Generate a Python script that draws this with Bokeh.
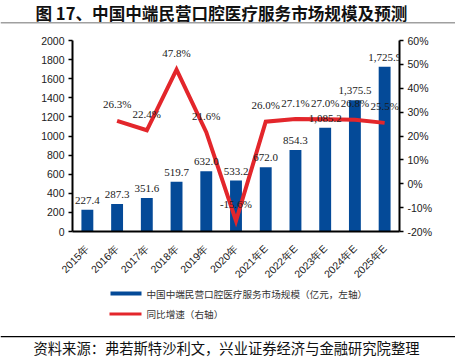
from bokeh.plotting import figure
from bokeh.layouts import column
from bokeh.models import (ColumnDataSource, FactorRange, Range1d, LinearAxis, FixedTicker,
                          PrintfTickFormatter, LabelSet, Label, BoxAnnotation)
from bokeh.embed import file_html
from bokeh.resources import INLINE
import math

years = ["2015年", "2016年", "2017年", "2018年", "2019年", "2020年",
         "2021年E", "2022年E", "2023年E", "2024年E", "2025年E"]
market = [227.4, 287.3, 351.6, 519.7, 632.0, 533.2, 672.0, 854.3, 1085.2, 1375.5, 1725.9]
growth_years = years[1:]
growth = [26.3, 22.4, 47.8, 21.6, -15.6, 26.0, 27.1, 27.0, 26.8, 25.5]

title_text = "图 17、中国中端民营口腔医疗服务市场规模及预测"
legend_bar = "中国中端民营口腔医疗服务市场规模（亿元，左轴）"
legend_line = "同比增速（右轴）"
source_text = "资料来源：弗若斯特沙利文，兴业证券经济与金融研究院整理"

BLUE = "#044a98"
RED = "#e3262b"
TXT = "#1a1a1a"
FONT = "Liberation Sans"
CJK = "Noto Sans CJK SC"

W = 455
TOP_H = 32          # page y 0..32
MAIN_H = 255        # page y 32..287
BOT_H = 363 - TOP_H - MAIN_H - 1


def blank(h, y0):
    f = figure(width=W, height=h, x_range=Range1d(0, W), y_range=Range1d(y0 + h, y0),
               output_backend="svg", toolbar_location=None, min_border=0,
               frame_align=False)
    f.axis.visible = False
    f.grid.visible = False
    f.outline_line_color = None
    f.background_fill_color = "white"
    f.border_fill_color = "white"
    return f


# ---------- title strip ----------
top = blank(TOP_H, 0)
top.add_layout(Label(x=35, y=12, text=title_text, text_font=CJK, text_font_size="16.6px",
                     text_font_style="bold", text_baseline="middle", text_align="left",
                     text_color="#111111"))
top.add_layout(BoxAnnotation(left=0, right=W, top=21.5, bottom=23, fill_color="#a0a0a0",
                             fill_alpha=1, line_color=None))

# ---------- main chart ----------
p = figure(width=W, height=MAIN_H, x_range=FactorRange(factors=years, range_padding=0),
           y_range=Range1d(0, 2000), output_backend="svg", toolbar_location=None,
           min_border_left=72, min_border_top=8, min_border_right=56, min_border_bottom=56,
           frame_align=False)
p.extra_y_ranges = {"pct": Range1d(-20, 60)}
p.outline_line_color = None
p.xgrid.grid_line_color = None
p.ygrid.grid_line_color = None
p.background_fill_color = "white"
p.border_fill_color = "white"

bar_src = ColumnDataSource(dict(x=years, y=market, lab=[f"{v:,.1f}" for v in market]))
p.vbar(x="x", top="y", width=0.4, source=bar_src, fill_color=BLUE, line_color=None)

line_src = ColumnDataSource(dict(x=growth_years, y=growth, lab=[f"{v:.1f}%" for v in growth]))
p.line(x="x", y="y", source=line_src, y_range_name="pct", line_color=RED, line_width=4,
       line_join="miter")

p.add_layout(LabelSet(x="x", y="y", text="lab", source=bar_src, text_align="center",
                      text_baseline="bottom", y_offset=6, text_font_size="11px",
                      text_font=FONT, text_color=TXT))
p.add_layout(LabelSet(x="x", y="y", text="lab", source=line_src, y_range_name="pct",
                      text_align="center", text_baseline="middle", y_offset=16.5,
                      text_font_size="11px", text_font=FONT, text_color=TXT))

p.yaxis[0].ticker = FixedTicker(ticks=list(range(0, 2001, 200)))
yr = LinearAxis(y_range_name="pct", ticker=FixedTicker(ticks=list(range(-20, 61, 10))),
                formatter=PrintfTickFormatter(format="%d%%"))
p.add_layout(yr, "right")
for ax in [p.yaxis[0], yr]:
    ax.axis_line_width = 2
    ax.axis_line_color = "black"
    ax.major_tick_line_color = "black"
    ax.major_tick_line_width = 1.5
    ax.major_tick_out = 4
    ax.major_tick_in = 0
    ax.minor_tick_line_color = None
    ax.major_label_text_font = FONT
    ax.major_label_text_font_size = "10.5px"
    ax.major_label_text_color = TXT
    ax.major_label_standoff = 4

xa = p.xaxis[0]
xa.axis_line_width = 2
xa.axis_line_color = "black"
xa.major_tick_line_color = None
xa.major_label_orientation = math.pi / 4
xa.major_label_text_font = FONT
xa.major_label_text_font_size = "10.5px"
xa.major_label_text_color = TXT
xa.major_label_standoff = 9

# ---------- legend + source strip ----------
y0 = TOP_H + MAIN_H
bot = blank(BOT_H, y0)
bot.add_layout(BoxAnnotation(left=110, right=141, top=291, bottom=295, fill_color=BLUE,
                             fill_alpha=1, line_color=None))
bot.add_layout(Label(x=146, y=293.5, text=legend_bar, text_font=CJK, text_font_size="9.6px",
                     text_baseline="middle", text_align="left", text_color="#333333"))
bot.add_layout(BoxAnnotation(left=109, right=141, top=312, bottom=315, fill_color=RED,
                             fill_alpha=1, line_color=None))
bot.add_layout(Label(x=146, y=313.5, text=legend_line, text_font=CJK, text_font_size="9.6px",
                     text_baseline="middle", text_align="left", text_color="#333333"))
bot.add_layout(BoxAnnotation(left=0, right=W, top=335.5, bottom=336.8, fill_color="black",
                             fill_alpha=1, line_color=None))
bot.add_layout(Label(x=33, y=347, text=source_text, text_font=CJK, text_font_size="14.3px",
                     text_baseline="middle", text_align="left", text_color="#111111"))

layout = column(top, p, bot, spacing=0)
open("out.html", "w").write(file_html(layout, INLINE))
